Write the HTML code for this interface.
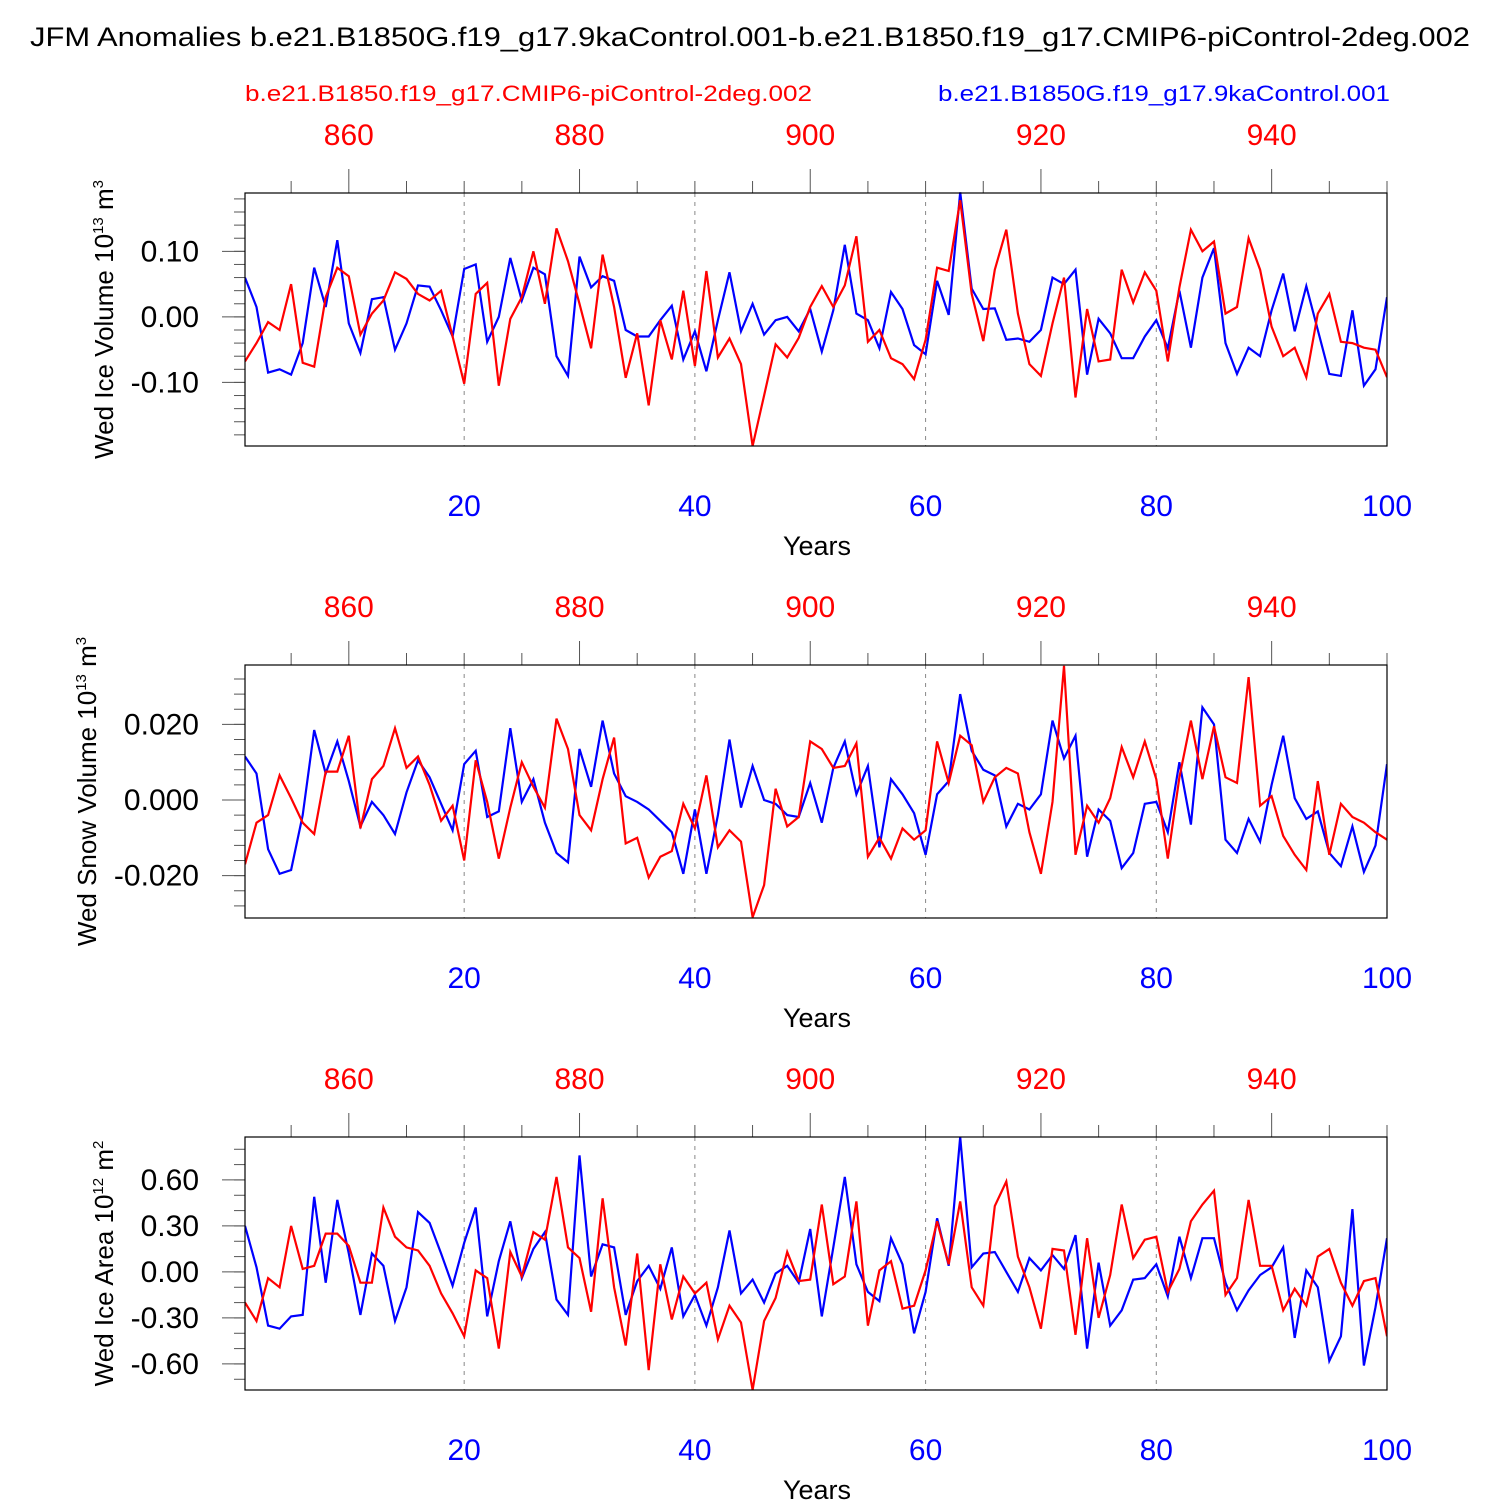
<!DOCTYPE html>
<html><head><meta charset="utf-8"><style>
html,body{margin:0;padding:0;background:#fff;}
svg{display:block;font-family:"Liberation Sans",sans-serif;}
</style></head><body>
<svg id="chart" width="1500" height="1500" viewBox="0 0 1500 1500" xmlns="http://www.w3.org/2000/svg">
<text x="30" y="46" font-size="27" textLength="1440" lengthAdjust="spacingAndGlyphs">JFM Anomalies b.e21.B1850G.f19_g17.9kaControl.001-b.e21.B1850.f19_g17.CMIP6-piControl-2deg.002</text>
<text x="245" y="101" font-size="22" fill="#f00" textLength="567" lengthAdjust="spacingAndGlyphs">b.e21.B1850.f19_g17.CMIP6-piControl-2deg.002</text>
<text x="938" y="101" font-size="22" fill="#00f" textLength="452" lengthAdjust="spacingAndGlyphs">b.e21.B1850G.f19_g17.9kaControl.001</text>
</svg>
<script>
const years = Array.from({length:100},(_,i)=>i+1);
const topTickLabels = [860,880,900,920,940];
const bottomTickLabels = [20,40,60,80,100];
const iceVolBlue=[0.06,0.015,-0.085,-0.08,-0.088,-0.04,0.075,0.015,0.117,-0.01,-0.055,0.027,0.03,-0.05,-0.01,0.048,0.046,0.01,-0.03,0.073,0.08,-0.038,0.0,0.09,0.025,0.075,0.065,-0.06,-0.09,0.092,0.045,0.062,0.055,-0.02,-0.03,-0.03,-0.005,0.017,-0.065,-0.022,-0.083,-0.005,0.068,-0.022,0.02,-0.027,-0.005,0.0,-0.022,0.012,-0.053,0.01,0.11,0.005,-0.005,-0.048,0.038,0.012,-0.043,-0.057,0.055,0.003,0.19,0.043,0.012,0.013,-0.035,-0.033,-0.038,-0.02,0.06,0.05,0.072,-0.088,-0.003,-0.025,-0.063,-0.063,-0.03,-0.005,-0.048,0.04,-0.047,0.06,0.105,-0.04,-0.087,-0.047,-0.06,0.01,0.066,-0.022,0.047,-0.02,-0.087,-0.09,0.01,-0.105,-0.08,0.03];
const iceVolRed=[-0.068,-0.04,-0.008,-0.02,0.05,-0.07,-0.076,0.03,0.075,0.062,-0.027,0.005,0.025,0.068,0.058,0.035,0.025,0.04,-0.03,-0.102,0.035,0.052,-0.105,-0.003,0.03,0.1,0.02,0.135,0.085,0.02,-0.048,0.095,0.015,-0.093,-0.025,-0.135,-0.005,-0.065,0.04,-0.075,0.07,-0.062,-0.033,-0.072,-0.197,-0.12,-0.042,-0.062,-0.032,0.015,0.047,0.015,0.048,0.123,-0.038,-0.02,-0.063,-0.072,-0.095,-0.035,0.075,0.07,0.178,0.035,-0.037,0.072,0.133,0.005,-0.072,-0.09,-0.01,0.06,-0.123,0.012,-0.068,-0.065,0.072,0.022,0.068,0.04,-0.068,0.045,0.133,0.1,0.115,0.005,0.015,0.12,0.072,-0.015,-0.06,-0.047,-0.092,0.005,0.035,-0.038,-0.04,-0.047,-0.05,-0.092];
const snowBlue=[11.5,7,-13,-19.5,-18.5,-4,18.5,7,15.5,5,-7,-0.5,-4,-9,2,10.5,6,-1,-8,9.5,13,-4.5,-3,19,-0.5,5.5,-6,-14,-16.5,13.5,3.5,21,7,1,-0.5,-2.5,-5.5,-8.5,-19.5,-2.5,-19.5,-4,16,-2,9,0,-1,-4,-4.5,4.5,-6,8.5,15.5,1.5,9,-12.5,5.5,1.5,-3.5,-14.5,1.5,5,28,13,8,6.5,-7,-1,-2.5,1.5,21,11,17,-15,-2.5,-5.5,-18,-14,-1,-0.5,-8.5,10,-6.5,24.5,20,-10.5,-14,-5,-11,4,17,0.5,-5,-3,-14,-17.5,-7,-19,-12,9.5].map(v=>v/1000);
const snowRed=[-17,-6,-4,6.5,0.5,-6,-9,7.5,7.5,17,-7.5,5.5,9,19,8.5,11.5,4,-5.5,-1.5,-16,10.5,-0.5,-15.5,-2,10,3.5,-2,21.5,13.5,-4,-8,5.5,16.5,-11.5,-10,-20.5,-15,-13.5,-1,-7.5,6.5,-12.5,-8,-11,-31,-22.5,3,-7,-4.5,15.5,13.5,8.5,9,15,-15,-10,-15.5,-7.5,-10.5,-8,15.5,4.5,17,14.5,-0.5,6,8.5,7,-8.5,-19.5,-0.5,35.5,-14.5,-1.5,-6,0.5,14,6,15.5,5.5,-15.5,6,21,5.5,19.5,6,4.5,32.5,-1.5,1,-9.5,-14.5,-18.5,5,-14.5,-1,-4.5,-6,-8.5,-10.5].map(v=>v/1000);
const areaBlue=[0.3,0.03,-0.35,-0.37,-0.29,-0.28,0.49,-0.07,0.47,0.12,-0.28,0.12,0.04,-0.32,-0.1,0.39,0.32,0.12,-0.09,0.19,0.42,-0.29,0.07,0.33,-0.04,0.15,0.26,-0.18,-0.28,0.76,-0.03,0.18,0.16,-0.28,-0.06,0.04,-0.11,0.16,-0.29,-0.15,-0.35,-0.1,0.27,-0.14,-0.05,-0.2,-0.01,0.04,-0.07,0.28,-0.29,0.16,0.62,0.05,-0.13,-0.19,0.22,0.05,-0.4,-0.13,0.35,0.04,0.88,0.03,0.12,0.13,0.0,-0.13,0.09,0.01,0.11,0.02,0.24,-0.5,0.06,-0.35,-0.25,-0.05,-0.04,0.05,-0.16,0.23,-0.04,0.22,0.22,-0.07,-0.25,-0.12,-0.02,0.03,0.16,-0.43,0.01,-0.1,-0.58,-0.42,0.41,-0.61,-0.23,0.22];
const areaRed=[-0.2,-0.32,-0.04,-0.1,0.3,0.02,0.04,0.25,0.25,0.17,-0.07,-0.07,0.42,0.23,0.16,0.14,0.04,-0.14,-0.27,-0.42,0.01,-0.04,-0.5,0.13,-0.03,0.26,0.21,0.62,0.16,0.09,-0.26,0.48,-0.1,-0.48,0.12,-0.64,0.05,-0.31,-0.03,-0.14,-0.07,-0.44,-0.22,-0.33,-0.77,-0.32,-0.17,0.13,-0.06,-0.05,0.44,-0.08,-0.03,0.46,-0.35,0.01,0.07,-0.24,-0.22,0.01,0.33,0.05,0.46,-0.1,-0.22,0.43,0.59,0.1,-0.1,-0.37,0.15,0.14,-0.41,0.22,-0.3,-0.02,0.44,0.09,0.21,0.23,-0.13,0.02,0.33,0.44,0.53,-0.15,-0.04,0.47,0.04,0.04,-0.25,-0.11,-0.22,0.1,0.15,-0.07,-0.22,-0.06,-0.04,-0.42];
const ticks1=[-0.1,0,0.1], tickLab1=["-0.10","0.00","0.10"];
const ticks2=[-0.02,0,0.02], tickLab2=["-0.020","0.000","0.020"];
const ticks3=[-0.6,-0.3,0,0.3,0.6], tickLab3=["-0.60","-0.30","0.00","0.30","0.60"];

const svg=document.getElementById('chart');
const NS='http://www.w3.org/2000/svg';
function mk(tag,attrs,parent){const e=document.createElementNS(NS,tag);for(const k in attrs)e.setAttribute(k,attrs[k]);(parent||svg).appendChild(e);return e;}
const X0=245,X1=1387;
const xs=v=>X0+(v-1)/99*(X1-X0);

function panel(top,ymin,ymax,ticks,labs,minorStep,blue,red,titleMain,sup,unit,sup2,pname,titleX){
  const bot=top+253;
  const g=mk('g',{});
  
  
  const ys=v=>bot-(v-ymin)/(ymax-ymin)*(bot-top);
  [20,40,60,80].forEach(v=>{const l=mk('line',{x1:xs(v),x2:xs(v),y1:top,y2:bot,stroke:'#888','stroke-dasharray':'4,5','stroke-width':1},g);
    });
  const start=Math.ceil(ymin/minorStep-1e-9);
  for(let k=start;k*minorStep<=ymax+1e-9;k++){const v=k*minorStep;const y=ys(v);
    const t=mk('line',{x1:X0-11,x2:X0,y1:y,y2:y,stroke:'#555','stroke-width':1},g);
    }
  ticks.forEach((v,i)=>{const y=ys(v);
    const t=mk('line',{x1:X0-23,x2:X0,y1:y,y2:y,stroke:'#555','stroke-width':1},g);
    
    const tx=mk('text',{x:X0-46,y:y+10,'text-anchor':'end','font-size':30},g);tx.textContent=labs[i];
    });
  for(let yr=855;yr<=950;yr+=5){const x=xs(yr-850);const maj=yr%20==0;
    const t=mk('line',{x1:x,x2:x,y1:top-(maj?24:12),y2:top,stroke:'#555','stroke-width':1},g);
    }
  topTickLabels.forEach(yr=>{const tx=mk('text',{x:xs(yr-850),y:top-48,'text-anchor':'middle','font-size':30,fill:'#f00'},g);tx.textContent=yr;
    });
  bottomTickLabels.forEach(v=>{const tx=mk('text',{x:xs(v),y:bot+70,'text-anchor':'middle','font-size':30,fill:'#00f'},g);tx.textContent=v;
    });
  const xt=mk('text',{x:817,y:bot+109,'text-anchor':'middle','font-size':27},g);xt.textContent='Years';
  
  const cy=(top+bot)/2;
  const yt=mk('text',{transform:`translate(${titleX},${cy}) rotate(-90)`,'text-anchor':'middle','font-size':26},g);
  
  const a=document.createElementNS(NS,'tspan');a.textContent=titleMain;yt.appendChild(a);
  const b=document.createElementNS(NS,'tspan');b.setAttribute('dy','-10');b.setAttribute('font-size','15');b.textContent=sup;yt.appendChild(b);
  const c=document.createElementNS(NS,'tspan');c.setAttribute('dy','10');c.textContent=' '+unit;yt.appendChild(c);
  const d=document.createElementNS(NS,'tspan');d.setAttribute('dy','-10');d.setAttribute('font-size','15');d.textContent=sup2;yt.appendChild(d);
  const clip='clip'+top;
  const cp=mk('clipPath',{id:clip},g);mk('rect',{x:X0,y:top-2,width:X1-X0,height:257},cp);
  [[blue,'#00f','blue-series-line'],[red,'#f00','red-series-line']].forEach(([dd,col,nm])=>{
    const p=mk('polyline',{points:dd.map((v,i)=>xs(years[i]).toFixed(1)+','+ys(v).toFixed(1)).join(' '),fill:'none',stroke:col,'stroke-width':2.2,'clip-path':`url(#${clip})`},g);
    });
  const fr=mk('rect',{x:X0,y:top,width:X1-X0,height:bot-top,fill:'none',stroke:'#000','stroke-width':1.2},g);
  
}
panel(193,-0.197,0.189,ticks1,tickLab1,0.02,iceVolBlue,iceVolRed,'Wed Ice Volume 10','13','m','3','ice-volume-panel',113);
panel(665,-0.0312,0.0357,ticks2,tickLab2,0.004,snowBlue,snowRed,'Wed Snow Volume 10','13','m','3','snow-volume-panel',96);
panel(1137,-0.77,0.88,ticks3,tickLab3,0.1,areaBlue,areaRed,'Wed Ice Area 10','12','m','2','ice-area-panel',113);
</script>
</body></html>
